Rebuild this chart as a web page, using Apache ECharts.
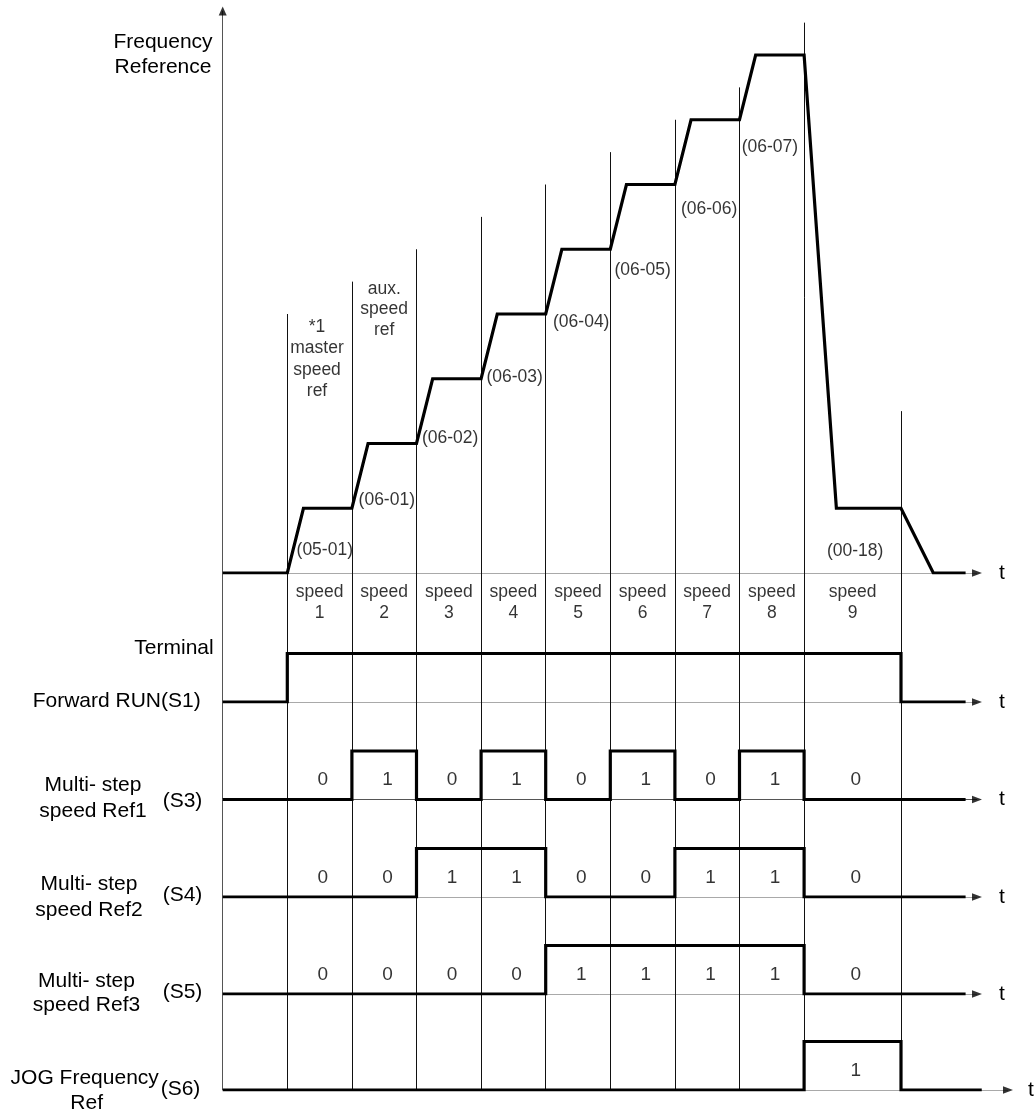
<!DOCTYPE html>
<html>
<head>
<meta charset="utf-8">
<script src="https://cdn.jsdelivr.net/npm/echarts@6/dist/echarts.min.js"></script>
<style>html,body{margin:0;padding:0;background:#fff}#c{width:1035px;height:1113px}</style>
</head>
<body>
<div id="c"></div>
<script>
// ---------------- data ----------------
const speedNames   = ['1','2','3','4','5','6','7','8','9'];
const speedStart   = [1, 2, 3, 4, 5, 6, 7, 8, 9];
const speedEnd     = [2, 3, 4, 5, 6, 7, 8, 9, 10.5];
// frequency reference profile (time units, speed level)
const freqTime  = [0, 1, 1.25, 2, 2.25, 3, 3.25, 4, 4.25, 5, 5.25, 6, 6.25, 7, 7.25, 8, 8.25, 9, 9.5, 10.5, 11, 11.5];
const freqLevel = [0, 0, 1,    1, 2,    2, 3,    3, 4,    4, 5,    5, 6,    6, 7,    7, 8,    8, 1,   1,    0,  0];
const paramNames = ['(05-01)','(06-01)','(06-02)','(06-03)','(06-04)','(06-05)','(06-06)','(06-07)','(00-18)'];
const refNotes   = ['*1\nmaster\nspeed\nref', 'aux.\nspeed\nref'];
// vertical guide lines (time, top level in frequency panel)
const dividerTime = [1, 2, 3, 4, 5, 6, 7, 8, 9, 10.5];
const dividerTop  = [4, 4.5, 5, 5.5, 6, 6.5, 7, 7.5, 8.5, 2.5];
// terminal signals
const s1Time  = [0, 1, 10.5, 11.5];
const s1State = [0, 1, 0, 0];
const s3State = [0, 1, 0, 1, 0, 1, 0, 1, 0];   // per speed 1..9
const s4State = [0, 0, 1, 1, 0, 0, 1, 1, 0];
const s5State = [0, 0, 0, 0, 1, 1, 1, 1, 0];
const s6Time  = [0, 9, 10.5, 11.75];
const s6State = [0, 1, 0, 0];
const signalEnd = 11.5;

// ---------------- layout ----------------
const W = 1035, X0 = 222.7, PX_T = 64.6;
const xMin = -X0 / PX_T, xMax = (W - X0) / PX_T;
const FREQ_BASE = 573, FREQ_PX = 64.75;
const rowBase = [702, 799.5, 897, 994, 1090];
const ROW_PX = 48.5;
const FONT = '"Liberation Sans", Arial, Helvetica, sans-serif';
const DIV_COLOR = '#111';
const BASE_COLOR = '#555';
const ARROW_T = (977 - X0) / PX_T;      // centre of arrow head (tip at 982px)
const ARROW_T_S6 = (1008 - X0) / PX_T;  // tip at 1013px
const Y_ARROW = (FREQ_BASE - 11) / FREQ_PX;
const paramPos = [[1.58,0.355],[2.54,1.13],[3.52,2.08],[4.52,3.03],[5.55,3.88],[6.5,4.68],[7.53,5.62],[8.47,6.57],[9.79,0.33]];
const notePos = [[1.46,3.30],[2.50,4.07]];
const notesLH = [21.5, 20.5];

const grids = [{left:0, width:W, top:0, height:FREQ_BASE}];
const yMax = [FREQ_BASE / FREQ_PX];
let prev = FREQ_BASE;
rowBase.forEach(b => { grids.push({left:0, width:W, top:prev, height:b - prev}); yMax.push((b - prev) / ROW_PX); prev = b; });

const xAxis = grids.map((g, i) => ({type:'value', gridIndex:i, min:xMin, max:xMax, show:false}));
const yAxis = grids.map((g, i) => ({type:'value', gridIndex:i, min:0, max:yMax[i], show:false}));

// helpers
function stepPoints(times, states, end) {
  const pts = [[times[0], states[0]]];
  for (let i = 1; i < times.length; i++) {
    pts.push([times[i], states[i - 1]]);
    pts.push([times[i], states[i]]);
  }
  if (end != null) pts.push([end, states[states.length - 1]]);
  return pts;
}
function speedSignal(states) {
  const times = [0].concat(speedStart);
  const st = [0].concat(states);
  return stepPoints(times, st, signalEnd);
}
function thick(gi, data) {
  return {type:'line', xAxisIndex:gi, yAxisIndex:gi, data:data, showSymbol:false, symbol:'none',
    lineStyle:{color:'#000', width:3.2, join:'miter', cap:'butt'}, z:5, animation:false, silent:true};
}
function thinLines(gi, segs, color) {
  return {type:'lines', coordinateSystem:'cartesian2d', xAxisIndex:gi, yAxisIndex:gi, z:1, silent:true, animation:false,
    lineStyle:{color:color, width:1, opacity:1, curveness:0}, symbol:['none','none'],
    data: segs.map(s => ({coords:s}))};
}
function arrowHead(gi, x, y, rot, size) {
  return {type:'scatter', xAxisIndex:gi, yAxisIndex:gi, symbol:'triangle', symbolSize:size, symbolRotate:rot,
    itemStyle:{color:'#000'}, z:3, silent:true, animation:false, data:[[x, y]]};
}
function textSeries(gi, items, fontSize, lineHeight) {
  return {type:'scatter', xAxisIndex:gi, yAxisIndex:gi, symbolSize:1, itemStyle:{color:'rgba(0,0,0,0)'},
    z:6, silent:true, animation:false,
    label:{show:true, position:'inside', formatter:'{b}', color:'#000', fontSize:fontSize, fontFamily:FONT,
      lineHeight:lineHeight, align:'center', verticalAlign:'middle'},
    data: items.map(it => ({name:it[2], value:[it[0], it[1]]}))};
}

const series = [];
// frequency panel
series.push(thinLines(0, dividerTime.map((t, i) => [[t, 0], [t, dividerTop[i]]]), DIV_COLOR));
series.push(thinLines(0, [[[0, 0], [ARROW_T, 0]], [[0, 0], [0, Y_ARROW]]], BASE_COLOR));
series.push(arrowHead(0, ARROW_T, 0, -90, [7.5, 10]));
series.push(arrowHead(0, 0, Y_ARROW, 0, [8, 9]));
series.push(thick(0, freqTime.map((t, i) => [t, freqLevel[i]])));
series.push(textSeries(0, paramNames.map((n, i) => [paramPos[i][0], paramPos[i][1], n]), 17.5, 21));
refNotes.forEach((n, i) => series.push(textSeries(0, [[notePos[i][0], notePos[i][1], n]], 17.5, notesLH[i])));

// signal rows
const rowSignals = [
  stepPoints(s1Time, s1State),
  speedSignal(s3State),
  speedSignal(s4State),
  speedSignal(s5State),
  stepPoints(s6Time, s6State)
];
for (let r = 0; r < 5; r++) {
  const gi = r + 1;
  const top = yMax[gi];
  const endT = r === 4 ? ARROW_T_S6 : ARROW_T;
  series.push(thinLines(gi, dividerTime.map(t => [[t, 0], [t, top]]), DIV_COLOR));
  series.push(thinLines(gi, [[[0, 0], [0, top]], [[0, 0], [endT, 0]]], BASE_COLOR));
  series.push(arrowHead(gi, endT, 0, -90, [7.5, 10]));
  series.push(thick(gi, rowSignals[r]));
}
// speed labels (below frequency axis)
series.push(textSeries(1, speedNames.map((n, i) => [(speedStart[i] + speedEnd[i]) / 2, 2.05, 'speed\n' + n]), 17.5, 21));
// state digits
[s3State, s4State, s5State].forEach((st, k) => {
  series.push(textSeries(k + 2, st.map((v, i) => [(speedStart[i] + speedEnd[i]) / 2 + 0.05, 0.4, String(v)]), 19, 22));
});
series.push(textSeries(5, [[(s6Time[1] + s6Time[2]) / 2 + 0.05, 0.4, String(s6State[1])]], 19, 22));

// row titles
function txt(x, y, text, size, lh) {
  return {type:'text', x:x, y:y, silent:true,
    style:{text:text, fill:'#000', fontSize:size || 21, fontFamily:FONT, align:'center', verticalAlign:'middle', lineHeight:lh || 25}};
}
const graphic = [
  txt(163, 54.5, 'Frequency\nReference'),
  txt(174, 648, 'Terminal'),
  txt(116.7, 701, 'Forward RUN(S1)'),
  txt(93, 798.4, 'Multi- step\nspeed Ref1', 21, 26.5),
  txt(182.5, 801, '(S3)'),
  txt(89, 897, 'Multi- step\nspeed Ref2', 21, 25.7),
  txt(182.5, 895.7, '(S4)'),
  txt(86.5, 993, 'Multi- step\nspeed Ref3', 21, 24.5),
  txt(182.5, 992.7, '(S5)'),
  txt(84.7, 1078.3, 'JOG Frequency'),
  txt(86.7, 1103, 'Ref'),
  txt(180.5, 1089, '(S6)')
];
[FREQ_BASE].concat(rowBase.slice(0, 4)).forEach(y => graphic.push(txt(1002, y, 't')));
graphic.push(txt(1031, rowBase[4], 't'));

const chart = echarts.init(document.getElementById('c'), null, {renderer:'canvas'});
chart.setOption({
  animation:false,
  backgroundColor:'#fff',
  grid: grids.map(g => Object.assign({containLabel:false}, g)),
  xAxis: xAxis,
  yAxis: yAxis,
  series: series,
  graphic: graphic
});
</script>
</body>
</html>
